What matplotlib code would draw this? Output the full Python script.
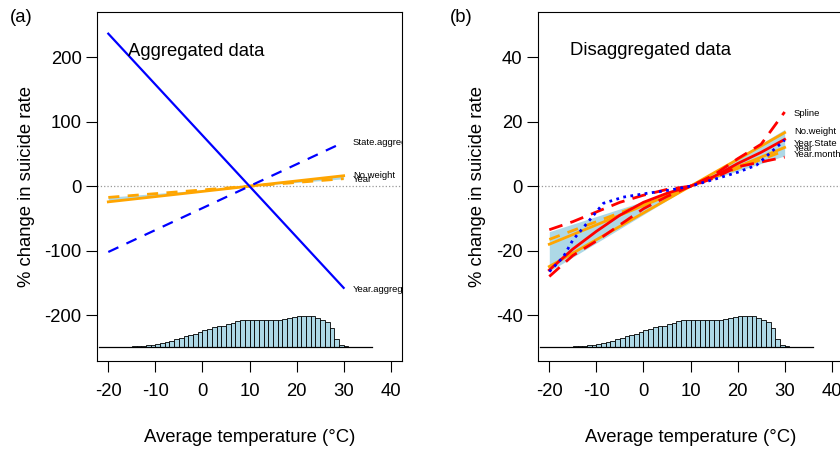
import matplotlib
matplotlib.use("Agg")
import matplotlib.pyplot as plt
import numpy as np

plt.rcParams["font.family"] = ["Liberation Sans", "DejaVu Sans"]
plt.rcParams["axes.unicode_minus"] = False

# temperature histogram (relative heights, 1 degree bins)
hist_left = np.arange(-18, 33)
hist_rel = [0.01, 0.015, 0.02, 0.03, 0.04, 0.055, 0.07, 0.09, 0.11, 0.14,
            0.17, 0.21, 0.25, 0.29, 0.34, 0.39, 0.43, 0.48, 0.53, 0.58,
            0.62, 0.65, 0.68, 0.72, 0.77, 0.81, 0.84, 0.84, 0.84, 0.84,
            0.84, 0.84, 0.84, 0.85, 0.86, 0.88, 0.91, 0.94, 0.96, 0.98,
            0.99, 0.97, 0.91, 0.84, 0.78, 0.60, 0.25, 0.09, 0.035, 0.015,
            0.005]

ref_temp = 10
line_x = [-20, 30]

# panel (a): slopes (% per degree, relative to 10 C)
a_year_aggr = -7.88
a_state_aggr = 3.4
a_noweight = 0.81
a_year = 0.58
a_band = (0.57, 0.80)
a_labels = ["State.aggregated", "No.weight", "Year", "Year.aggregated"]
a_label_y = [68, 17, 11, -160]

# panel (b)
b_noweight = 0.83
b_year_state = 0.60
b_year = 0.55
b_band = (0.47, 0.88)
spline_x = [-20, -15, -10, -5, 0, 5, 10, 15, 20, 25, 30]
spline_fit = [-26, -19.5, -14, -9, -5, -2.2, 0, 3, 7, 10.5, 14.5]
spline_hi = [-13.5, -11, -8, -5, -2.8, -1, 0, 3.5, 8.5, 13, 23]
spline_lo = [-28, -21.5, -17, -12, -7, -3.2, 0, 2.5, 6, 7.5, 9]
month_x = [-20, -17, -15, -12, -8.5, -4.3, 0.8, 5.7, 10, 15.7, 20, 24, 30]
month_y = [-26.5, -21.9, -16.7, -11.5, -5.3, -3.4, -2.2, -1.2, 0, 2.4, 4.3, 6.5, 14.3]
b_labels = ["Spline", "No.weight", "Year.State", "Year", "Year.month"]
b_label_y = [22.6, 17, 13.3, 11.8, 9.9]

FS = 13.3
BLUE = "#0000FF"
ORANGE = "#FFA500"
RED = "#FF0000"
LBLUE = "#ADD8E6"


def lin(slope):
    return [slope * (x - ref_temp) for x in line_x]


def base_axes(ax, ylim, yticks, base, scale):
    ax.set_xlim(-22.4, 42.4)
    ax.set_ylim(*ylim)
    ax.set_xticks([-20, -10, 0, 10, 20, 30, 40])
    ax.set_yticks(yticks)
    ax.tick_params(labelsize=FS, length=8, width=0.8, pad=3)
    ax.tick_params(axis="x", pad=8)
    for s in ax.spines.values():
        s.set_linewidth(0.8)
    ax.axhline(0, color="#999999", lw=0.9, ls=":")
    ax.bar(hist_left, np.array(hist_rel) * scale, width=1, bottom=base,
           align="edge", color=LBLUE, edgecolor="black", linewidth=0.6)
    ax.plot([-21.9, 36], [base, base], color="black", lw=0.9)
    ax.set_xlabel("Average temperature (\u00b0C)", fontsize=FS, labelpad=21)
    ax.set_ylabel("% change in suicide rate", fontsize=FS, labelpad=7)


def band(ax, lo, hi):
    xs = np.array(line_x, dtype=float)
    y1 = lo * (xs - ref_temp)
    y2 = hi * (xs - ref_temp)
    xx = np.array([xs[0], ref_temp, xs[1]])
    ax.fill_between(xx, [y2[0], 0, y1[1]], [y1[0], 0, y2[1]], color=LBLUE, lw=0)


fig = plt.figure(figsize=(8.4, 4.49), dpi=100)
ax1 = fig.add_axes([0.11548, 0.19599, 0.36310, 0.77728])
ax2 = fig.add_axes([0.64048, 0.19599, 0.36310, 0.77728])

# (a)
base_axes(ax1, (-271, 270), [-200, -100, 0, 100, 200], -250, 50)
band(ax1, *a_band)
ax1.plot(line_x, lin(a_year), color=ORANGE, lw=2, ls=(0, (4, 3)))
ax1.plot(line_x, lin(a_noweight), color=ORANGE, lw=2)
ax1.plot(line_x, lin(a_state_aggr), color=BLUE, lw=1.6, ls=(0, (5, 4)))
ax1.plot(line_x, lin(a_year_aggr), color=BLUE, lw=1.6)
for lab, y in zip(a_labels, a_label_y):
    ax1.text(32, y, lab, fontsize=6.8, va="center", ha="left", clip_on=True)
ax1.text(-15.8, 209, "Aggregated data", fontsize=FS, va="center", ha="left")

# (b)
base_axes(ax2, (-54.2, 54), [-40, -20, 0, 20, 40], -50, 10)
band(ax2, *b_band)
ax2.plot(line_x, lin(b_year), color=ORANGE, lw=2, ls=(0, (4, 3)))
ax2.plot(line_x, lin(b_year_state), color=ORANGE, lw=2)
ax2.plot(line_x, lin(b_noweight), color=ORANGE, lw=2)
ax2.plot(spline_x, spline_hi, color=RED, lw=2, ls=(0, (5, 3)))
ax2.plot(spline_x, spline_lo, color=RED, lw=2, ls=(0, (5, 3)))
ax2.plot(spline_x, spline_fit, color=RED, lw=2)
ax2.plot(month_x, month_y, color=BLUE, lw=2, ls=(0, (1, 1.6)))
for lab, y in zip(b_labels, b_label_y):
    ax2.text(32, y, lab, fontsize=6.8, va="center", ha="left", clip_on=True)
ax2.text(-15.5, 42, "Disaggregated data", fontsize=FS, va="center", ha="left")

fig.text(10 / 840, 1 - 18 / 449, "(a)", fontsize=FS, va="center", ha="left")
fig.text(450 / 840, 1 - 18 / 449, "(b)", fontsize=FS, va="center", ha="left")

fig.savefig("out.png", dpi=100)
